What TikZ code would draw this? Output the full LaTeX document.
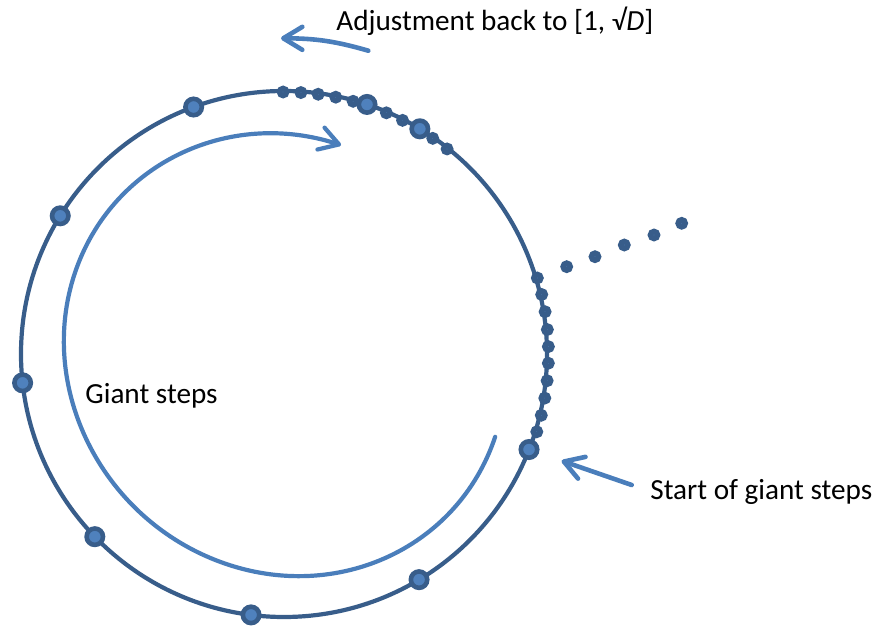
\documentclass[tikz,border=0pt]{standalone}
\usepackage{fontspec}
\setmainfont{Carlito}
\usetikzlibrary{arrows.meta}
\definecolor{mdark}{RGB}{56,93,138}
\definecolor{mfill}{RGB}{79,129,189}
\definecolor{marrow}{RGB}{74,126,187}

\begin{document}
\begin{tikzpicture}[x=0.5pt,y=0.5pt]
  \tikzset{big dot/.style={circle,draw=mdark,fill=mfill,line width=2.3pt,inner sep=0pt,minimum size=8.2pt},
    small dot/.style={circle,draw=mdark,fill=mfill,line width=2.8pt,inner sep=0pt,minimum size=3.5pt},
    hint arrow/.style={draw=marrow,line width=2.3pt,line cap=round,-{Straight Barb[length=9.5pt,width=11.5pt,round]}},
    label text/.style={font=\fontsize{14.6}{17}\selectfont,inner sep=0pt}}
  \useasboundingbox (0,0) rectangle (885,627);

  \coordinate (O) at (284,273); % centre of the group
  \coordinate (E) at (285,272); % centre of the giant steps arc

  \draw[mdark,line width=2.1pt] (O) circle[radius=263];
  \draw[hint arrow,line width=2.1pt,shift={(E)},rotate=135] (-154.9:228 and 214)
    arc[start angle=-154.9,end angle=-421.5,x radius=228,y radius=214];

  \begin{scope}[shift={(O)}]
    \foreach \a [count=\i] in {-17.1,-13.4,-9.6,-5.8,-2.0,1.6,5.3,9.2,13.0,16.7}
      \node[small dot] (r\i) at (\a:264.5) {}; % baby steps
    \foreach \a [count=\i] in {90.2,86.3,82.5,78.6,74.7,67,63.1,55.4,51.5}
      \node[small dot] (b\i) at (\a:262) {}; % baby steps after the jump
    \foreach \a [count=\i] in {-21.3,-59.1,-97.2,-136,-173.7,148.3,110.1,71.6,58.9}
      \node[big dot] (g\i) at (\a:263) {}; % giant steps
  \end{scope}
  \foreach \x/\y [count=\i] in {566.7/360.3,595/370.3,624.3/382,654/392,681.7/403.7}
    \node[small dot] (t\i) at (\x,\y) {};

  \node[label text,anchor=base west] (adjust) at (336,596) {Adjustment back to [1, √\textit{D}]};
  \node[label text,anchor=base west] (giant) at (85,223) {Giant steps};
  \node[label text,anchor=base west] (start) at (650,127) {Start of giant steps};

  \coordinate (adjust tail) at (368.3,576.3);
  \coordinate (adjust tip) at (281,588.7);
  \coordinate (start tail) at (631.7,142);
  \draw[hint arrow] (adjust tail) to[bend right=8] (adjust tip);
  \draw[hint arrow,shorten >=12pt] (start tail) -- (g1);
\end{tikzpicture}
\end{document}
